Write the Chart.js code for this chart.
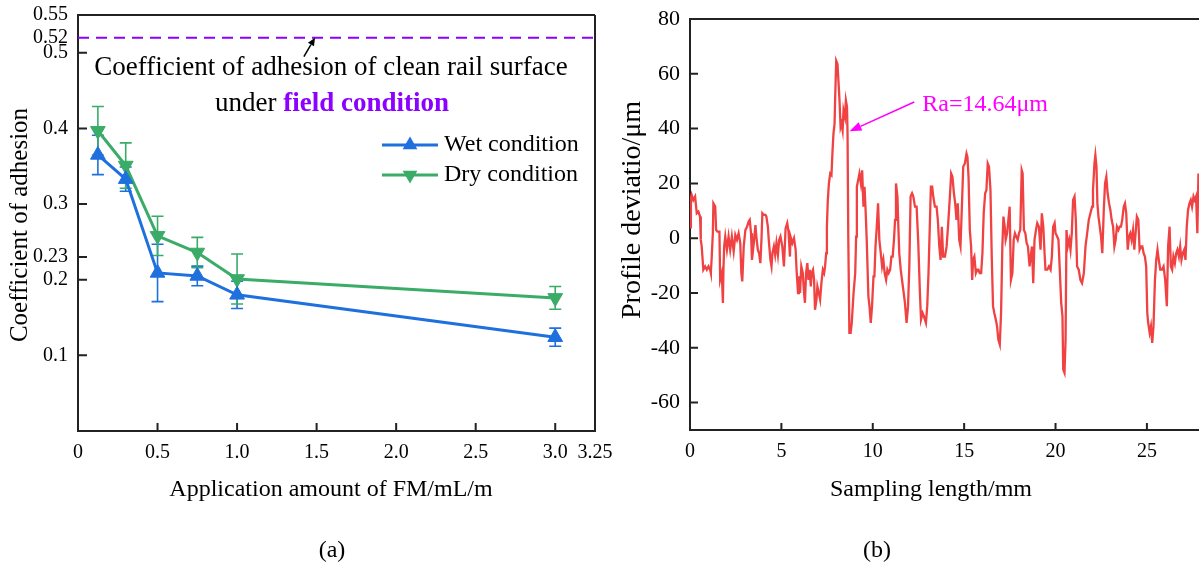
<!DOCTYPE html>
<html lang="en">
<head>
<meta charset="UTF-8">
<title>Adhesion coefficient and rail surface profile</title>
<script src="https://cdn.jsdelivr.net/npm/chart.js"></script>
<style>
  body { margin: 0; background: #fff; }
  #wrap { position: relative; width: 1199px; height: 572px; overflow: hidden; }
  #boxA { position: absolute; left: 0; top: 0; width: 640px; height: 572px; }
  #boxB { position: absolute; left: 600px; top: 0; width: 599px; height: 572px; }
</style>
</head>
<body>
<div id="wrap">
  <div id="boxA"><canvas id="chartA"></canvas></div>
  <div id="boxB"><canvas id="chartB"></canvas></div>
</div>
<script>
// ---- panel (a): adhesion vs FM amount ----
const amounts = [0.125, 0.3, 0.5, 0.75, 1.0, 3.0];
const wetMean = [0.365, 0.333, 0.209, 0.205, 0.180, 0.124];
const wetErr  = [0.026, 0.016, 0.038, 0.013, 0.018, 0.012];
const dryMean = [0.397, 0.351, 0.258, 0.236, 0.201, 0.176];
const dryErr  = [0.032, 0.030, 0.026, 0.020, 0.033, 0.015];
const cleanRail = 0.52;
const xTicksA = [0, 0.5, 1.0, 1.5, 2.0, 2.5, 3.0, 3.25];
const yTicksA = [0.1, 0.2, 0.23, 0.3, 0.4, 0.5, 0.52, 0.55];

// ---- panel (b): surface profile ----
const profileX = [
  0.00, 0.05, 0.09, 0.18, 0.28, 0.37, 0.46, 0.55, 0.59, 0.64, 0.73, 0.83, 0.92, 1.01, 1.10, 1.14, 1.19, 1.25, 1.28, 1.38,
  1.43, 1.50, 1.61, 1.65, 1.74, 1.80, 1.83, 1.87, 1.93, 2.02, 2.11, 2.20, 2.29, 2.39, 2.48, 2.57, 2.66, 2.75, 2.81, 2.86,
  2.94, 3.03, 3.12, 3.21, 3.27, 3.34, 3.39, 3.49, 3.58, 3.63, 3.71, 3.78, 3.85, 3.91, 3.96, 4.04, 4.13, 4.18, 4.26, 4.31,
  4.40, 4.46, 4.51, 4.59, 4.66, 4.73, 4.81, 4.88, 4.95, 5.05, 5.14, 5.23, 5.32, 5.39, 5.47, 5.50, 5.60, 5.69, 5.78, 5.83,
  5.91, 5.96, 6.02, 6.09, 6.17, 6.24, 6.29, 6.35, 6.42, 6.48, 6.55, 6.61, 6.66, 6.73, 6.79, 6.84, 6.92, 6.97, 7.05, 7.12,
  7.19, 7.27, 7.34, 7.39, 7.45, 7.49, 7.54, 7.60, 7.67, 7.74, 7.80, 7.85, 7.91, 7.94, 8.00, 8.07, 8.13, 8.18, 8.24, 8.29,
  8.35, 8.40, 8.48, 8.53, 8.59, 8.62, 8.66, 8.72, 8.79, 8.85, 8.95, 9.04, 9.09, 9.13, 9.20, 9.27, 9.35, 9.42, 9.49, 9.55,
  9.60, 9.67, 9.76, 9.82, 9.89, 9.96, 10.04, 10.09, 10.15, 10.22, 10.29, 10.36, 10.44, 10.51, 10.58, 10.65, 10.73, 10.80, 10.87, 10.95,
  11.02, 11.09, 11.16, 11.22, 11.27, 11.35, 11.40, 11.45, 11.53, 11.60, 11.67, 11.76, 11.85, 11.93, 12.00, 12.07, 12.15, 12.22, 12.31, 12.40,
  12.49, 12.58, 12.64, 12.73, 12.80, 12.91, 12.98, 13.05, 13.13, 13.18, 13.25, 13.31, 13.40, 13.49, 13.56, 13.64, 13.71, 13.78, 13.85, 13.95,
  14.04, 14.13, 14.22, 14.29, 14.36, 14.44, 14.51, 14.58, 14.65, 14.73, 14.80, 14.87, 14.95, 15.04, 15.13, 15.18, 15.24, 15.31, 15.38, 15.44,
  15.49, 15.56, 15.64, 15.71, 15.78, 15.85, 15.93, 16.00, 16.07, 16.15, 16.22, 16.29, 16.36, 16.44, 16.51, 16.58, 16.65, 16.73, 16.80, 16.87,
  16.95, 17.02, 17.09, 17.15, 17.22, 17.27, 17.35, 17.42, 17.49, 17.56, 17.64, 17.71, 17.78, 17.85, 17.93, 18.00, 18.07, 18.15, 18.20, 18.27,
  18.35, 18.42, 18.49, 18.58, 18.71, 18.78, 18.85, 18.93, 19.00, 19.09, 19.18, 19.25, 19.33, 19.40, 19.45, 19.55, 19.64, 19.73, 19.80, 19.87,
  19.95, 20.00, 20.09, 20.16, 20.24, 20.31, 20.38, 20.42, 20.49, 20.55, 20.60, 20.67, 20.75, 20.82, 20.89, 20.96, 21.04, 21.11, 21.18, 21.27,
  21.36, 21.45, 21.55, 21.64, 21.73, 21.82, 21.91, 22.00, 22.05, 22.13, 22.18, 22.24, 22.29, 22.35, 22.42, 22.49, 22.56, 22.64, 22.71, 22.78,
  22.85, 22.93, 23.00, 23.07, 23.15, 23.22, 23.29, 23.36, 23.44, 23.51, 23.58, 23.65, 23.73, 23.80, 23.87, 23.95, 24.02, 24.09, 24.16, 24.24,
  24.31, 24.38, 24.45, 24.53, 24.60, 24.67, 24.75, 24.82, 24.89, 24.96, 25.02, 25.07, 25.15, 25.22, 25.29, 25.36, 25.44, 25.51, 25.58, 25.65,
  25.73, 25.82, 25.91, 26.00, 26.09, 26.16, 26.24, 26.31, 26.38, 26.45, 26.53, 26.60, 26.67, 26.75, 26.82, 26.89, 26.96, 27.04, 27.11, 27.18,
  27.25, 27.33, 27.40, 27.47, 27.55, 27.62, 27.69, 27.76, 27.82
];
const profileY = [
  4.0, 14.5, 15.8, 13.9, 15.2, 9.1, 9.7, 7.9, -0.6, -3.0, -11.5, -10.3, -11.5, -10.3, -11.5, -12.7, -6.7, 1.8, 12.7, 11.5,
  3.0, 2.4, 2.4, -15.2, -12.7, -23.6, -11.5, -3.0, 0.6, -4.2, 0.6, -4.2, 0.6, -4.8, 1.2, -0.6, 1.8, -1.8, -12.7, -15.8,
  -3.0, 3.0, 4.2, 6.1, 6.7, 1.8, -7.9, -1.8, 4.8, 0.6, -4.2, -5.5, -9.1, -0.6, 9.1, 8.5, 8.5, 7.9, 4.2, -0.6,
  -7.9, -10.3, -5.5, -3.0, -6.1, -1.8, -6.1, -0.6, 0.6, -3.0, -10.3, 3.6, 5.5, 2.4, -6.7, 0.6, -1.8, 0.0, -4.2, -11.5,
  -20.0, -13.9, -20.0, -10.3, -12.7, -20.0, -23.6, -12.7, -9.1, -15.2, -11.5, -17.6, -12.7, -11.5, -15.2, -26.1, -22.4, -17.6, -20.0, -22.4,
  -16.4, -11.5, -12.7, -10.3, -5.5, 4.2, 13.9, 20.0, 23.6, 23.0, 32.1, 38.2, 41.8, 50.3, 64.8, 63.6, 56.4, 50.3, 40.6, 41.8,
  39.4, 46.7, 44.2, 50.3, 47.9, 38.2, 0.6, -34.5, -34.5, -30.9, -20.0, -12.7, 0.6, 18.8, 21.2, 23.6, 20.0, 24.8, 11.5, 18.8,
  11.5, -0.6, -21.2, -24.8, -30.9, -24.8, -13.9, -13.9, -3.0, 4.2, 12.7, -0.6, -5.5, -10.3, -7.9, -12.7, -15.2, -11.5, -12.7, -11.5,
  -6.7, -6.7, -0.6, 6.7, 20.0, 15.2, 4.2, -5.5, -11.5, -15.2, -18.8, -23.6, -30.9, -24.8, -10.3, 15.2, 16.4, 15.2, 11.5, 11.5,
  -1.8, -20.0, -29.7, -27.3, -28.5, -30.9, -24.8, -12.7, 6.7, 18.8, 18.8, 15.2, 11.5, 11.5, 6.7, -3.0, -7.9, 4.2, -6.7, -6.7,
  -3.0, 5.5, 15.2, 23.6, 22.4, 16.4, 12.7, 6.7, 12.7, -0.6, -3.0, 10.3, 26.1, 27.3, 30.9, 29.7, 22.4, 3.0, -3.0, -15.2,
  -7.9, -6.7, -12.7, -11.5, -11.5, -12.7, -12.7, -5.5, 9.1, 16.4, 17.6, 27.3, 26.1, 17.6, -6.7, -24.8, -27.3, -29.7, -32.1, -37.0,
  -38.8, -27.3, -3.0, 7.9, 4.2, -0.6, 1.8, 6.7, 11.5, -15.2, -12.7, -0.6, 1.8, 0.6, -0.6, 1.8, 3.0, 24.8, 23.6, 3.0,
  1.8, -1.8, -3.0, -10.3, -3.0, -16.4, -0.6, 3.0, 5.5, 4.2, -4.2, 9.1, 4.2, -5.5, -11.5, -11.5, -10.3, -11.5, -6.7, 4.2,
  5.5, 1.8, 0.6, -0.6, -12.7, -23.6, -28.5, -47.9, -49.1, -37.0, 3.0, -3.0, -0.6, -4.2, 1.8, 13.9, 15.2, 6.7, -10.3, -11.5,
  -15.2, -16.4, -12.7, -3.0, 1.8, 6.7, 9.1, 11.5, 17.6, 27.3, 30.3, 26.1, 12.7, 7.9, 4.2, 0.6, -5.5, 10.3, 20.0, 22.4,
  16.4, 12.7, 10.3, 6.7, 4.2, -3.0, -0.6, 4.2, 3.0, 4.2, 4.2, 6.7, 11.5, 12.7, 9.1, -4.2, 0.6, 1.8, -0.6, 3.0,
  -4.2, 1.8, 7.9, 6.7, -4.2, -3.0, -3.0, -5.5, -6.7, -10.3, -27.3, -30.9, -34.5, -32.1, -38.2, -32.1, -15.2, -7.9, -4.2, -7.9,
  -11.5, -11.5, -10.3, -15.2, -24.8, -3.0, 4.2, -10.3, -11.5, -6.7, -9.1, -5.5, -4.2, -6.7, -3.0, -7.9, -5.5, -4.2, -7.9, 4.2,
  10.3, 12.7, 13.9, 11.5, 15.2, 13.9, 15.2, 1.8, 23.6
];
const xTicksB = [0, 5, 10, 15, 20, 25];
const yTicksB = [-60, -40, -20, 0, 20, 40, 60, 80];

const serif = '"Liberation Serif", "Times New Roman", serif';
const blue = 'rgb(30,112,222)';
const green = 'rgb(58,172,104)';
const violet = '#8b00ff';
const red = 'rgb(240,66,66)';
const axisCol = '#222';

function arrow(ctx, x1, y1, x2, y2, color, width, headLen, headHalf) {
  const a = Math.atan2(y2 - y1, x2 - x1);
  const bx = x2 - headLen * Math.cos(a), by = y2 - headLen * Math.sin(a);
  ctx.save();
  ctx.strokeStyle = color; ctx.fillStyle = color; ctx.lineWidth = width;
  ctx.beginPath(); ctx.moveTo(x1, y1); ctx.lineTo(bx, by); ctx.stroke();
  ctx.beginPath();
  ctx.moveTo(x2, y2);
  ctx.lineTo(bx + headHalf * Math.sin(a), by - headHalf * Math.cos(a));
  ctx.lineTo(bx - headHalf * Math.sin(a), by + headHalf * Math.cos(a));
  ctx.closePath(); ctx.fill();
  ctx.restore();
}

function triangle(ctx, x, y, r, down) {
  let rad = down ? Math.PI : 0;
  ctx.beginPath();
  for (let k = 0; k < 3; k++) {
    const px = x + Math.sin(rad) * r, py = y - Math.cos(rad) * r;
    if (k) ctx.lineTo(px, py); else ctx.moveTo(px, py);
    rad += 2 * Math.PI / 3;
  }
  ctx.closePath();
  ctx.fill();
}

// inward tick marks + the remaining frame lines
function drawFrame(chart, xVals, yVals, xLen, yLen, sides) {
  const {ctx, chartArea: ca, scales} = chart;
  ctx.save();
  ctx.strokeStyle = axisCol;
  ctx.lineWidth = 2;
  ctx.beginPath();
  xVals.forEach(v => {
    const px = scales.x.getPixelForValue(v);
    ctx.moveTo(px, ca.bottom); ctx.lineTo(px, ca.bottom - xLen);
  });
  yVals.forEach(v => {
    const py = scales.y.getPixelForValue(v);
    ctx.moveTo(ca.left, py); ctx.lineTo(ca.left + yLen, py);
  });
  ctx.stroke();
  ctx.beginPath();
  if (sides.top) { ctx.moveTo(ca.left, ca.top); ctx.lineTo(ca.right, ca.top); }
  if (sides.right) { ctx.moveTo(ca.right, ca.top); ctx.lineTo(ca.right, ca.bottom + 1); }
  ctx.stroke();
  ctx.restore();
}

function text(ctx, str, x, y, font, color, align) {
  ctx.font = font;
  ctx.fillStyle = color || '#000';
  ctx.textAlign = align || 'center';
  ctx.textBaseline = 'middle';
  ctx.fillText(str, x, y);
}

function vText(ctx, str, x, y, font) {
  ctx.save();
  ctx.translate(x, y);
  ctx.rotate(-Math.PI / 2);
  text(ctx, str, 0, 0, font);
  ctx.restore();
}

// keep the plot area exactly where the padding puts it
function noOverhang(s) {
  s.paddingTop = 0; s.paddingBottom = 0; s.paddingLeft = 0; s.paddingRight = 0;
}

const panelA = {
  id: 'panelA',
  beforeDatasetsDraw(chart) {
    const {ctx, chartArea: ca, scales} = chart;
    const y = scales.y.getPixelForValue(cleanRail);
    ctx.save();
    ctx.strokeStyle = violet;
    ctx.lineWidth = 2;
    ctx.setLineDash([11, 7]);
    ctx.beginPath(); ctx.moveTo(ca.left, y); ctx.lineTo(ca.right, y); ctx.stroke();
    ctx.restore();

    // error bars
    [[wetMean, wetErr, blue], [dryMean, dryErr, green]].forEach(([m, e, c]) => {
      ctx.save();
      ctx.strokeStyle = c;
      ctx.lineWidth = 1.6;
      ctx.beginPath();
      amounts.forEach((a, i) => {
        const px = scales.x.getPixelForValue(a);
        const top = scales.y.getPixelForValue(m[i] + e[i]);
        const bot = scales.y.getPixelForValue(m[i] - e[i]);
        ctx.moveTo(px, top); ctx.lineTo(px, bot);
        ctx.moveTo(px - 6, top); ctx.lineTo(px + 6, top);
        ctx.moveTo(px - 6, bot); ctx.lineTo(px + 6, bot);
      });
      ctx.stroke();
      ctx.restore();
    });
  },
  afterDraw(chart) {
    const {ctx, scales} = chart;
    drawFrame(chart, [0.5, 1.0, 1.5, 2.0, 2.5, 3.0], [0.1, 0.2, 0.23, 0.3, 0.4, 0.5], 8, 9, {top: true, right: true});

    const f24 = '24px ' + serif;
    const f27 = '27px ' + serif;
    text(ctx, 'Coefficient of adhesion of clean rail surface', 331, 68, f27);
    // second line with bold coloured part
    ctx.font = f27;
    const w1 = ctx.measureText('under ').width;
    ctx.font = 'bold 27px ' + serif;
    const w2 = ctx.measureText('field condition').width;
    const x0 = 332 - (w1 + w2) / 2;
    text(ctx, 'under ', x0, 104, f27, '#000', 'left');
    text(ctx, 'field condition', x0 + w1, 104, 'bold 27px ' + serif, violet, 'left');

    arrow(ctx, scales.x.getPixelForValue(1.42), scales.y.getPixelForValue(0.495),
      scales.x.getPixelForValue(1.49), scales.y.getPixelForValue(0.52), '#000', 1.5, 8, 3.5);

    // legend
    [['Wet condition', blue, false, 145], ['Dry condition', green, true, 175]].forEach(([lab, c, down, y]) => {
      ctx.save();
      ctx.strokeStyle = c; ctx.fillStyle = c; ctx.lineWidth = 3;
      ctx.beginPath(); ctx.moveTo(382, y); ctx.lineTo(438, y); ctx.stroke();
      triangle(ctx, 410, y, 8.5, down);
      ctx.restore();
      text(ctx, lab, 444, y, f24, '#000', 'left');
    });

    vText(ctx, 'Coefficient of adhesion', 20, 225, '25px ' + serif);
    text(ctx, 'Application amount of FM/mL/m', 331, 490, f24);
    text(ctx, '(a)', 332, 551, f24);
  }
};

const panelB = {
  id: 'panelB',
  afterDraw(chart) {
    const {ctx, scales} = chart;
    drawFrame(chart, [5, 10, 15, 20, 25], [-60, -40, -20, 0, 20, 40, 60], 7, 8, {top: true, right: false});
    const f24 = '24px ' + serif;
    arrow(ctx, scales.x.getPixelForValue(12.27), scales.y.getPixelForValue(49.7),
      scales.x.getPixelForValue(8.73), scales.y.getPixelForValue(39.0), '#ff00ff', 1.6, 12, 4.5);
    ctx.font = f24;
    ctx.fillStyle = '#ff00ff';
    ctx.textAlign = 'left';
    ctx.textBaseline = 'alphabetic';
    ctx.fillText('Ra=14.64\u03bcm', scales.x.getPixelForValue(12.71), scales.y.getPixelForValue(46.6));

    vText(ctx, 'Profile deviatio/\u03bcm', 33, 210, '28px ' + serif);
    text(ctx, 'Sampling length/mm', 331, 490, f24);
    text(ctx, '(b)', 277, 551, f24);
  }
};

const tickFont = {family: serif, size: 20};

new Chart(document.getElementById('chartA'), {
  type: 'line',
  data: {
    datasets: [
      {
        label: 'Wet condition',
        data: amounts.map((a, i) => ({x: a, y: wetMean[i]})),
        borderColor: blue, backgroundColor: blue,
        borderWidth: 3, pointStyle: 'triangle', pointRadius: 8.5,
        pointBorderWidth: 1, tension: 0
      },
      {
        label: 'Dry condition',
        data: amounts.map((a, i) => ({x: a, y: dryMean[i]})),
        borderColor: green, backgroundColor: green,
        borderWidth: 3, pointStyle: 'triangle', pointRotation: 180, pointRadius: 8.5,
        pointBorderWidth: 1, tension: 0
      }
    ]
  },
  options: {
    responsive: true,
    maintainAspectRatio: false,
    animation: false,
    layout: {padding: {top: 15, right: 45, left: 0, bottom: 0}},
    plugins: {legend: {display: false}, tooltip: {enabled: false}},
    scales: {
      x: {
        type: 'linear', min: 0, max: 3.25,
        afterBuildTicks: s => { s.ticks = xTicksA.map(v => ({value: v})); },
        afterFit: s => { s.height = 141; noOverhang(s); },
        grid: {display: false, drawTicks: false},
        border: {display: true, color: axisCol, width: 2},
        ticks: {
          autoSkip: false, maxRotation: 0, padding: 10, color: '#000', font: tickFont,
          callback: v => v === 0 ? '0' : (v === 3.25 ? '3.25' : v.toFixed(1))
        }
      },
      y: {
        min: 0, max: 0.55,
        afterBuildTicks: s => { s.ticks = yTicksA.map(v => ({value: v})); },
        afterFit: s => { s.width = 78; noOverhang(s); },
        grid: {display: false, drawTicks: false},
        border: {display: true, color: axisCol, width: 2},
        ticks: {autoSkip: false, padding: 10, color: '#000', font: tickFont, callback: v => String(v)}
      }
    }
  },
  plugins: [panelA]
});

new Chart(document.getElementById('chartB'), {
  type: 'line',
  data: {
    datasets: [{
      label: 'Profile',
      data: profileX.map((x, i) => ({x: x, y: profileY[i]})),
      borderColor: red,
      borderWidth: 2.3,
      pointRadius: 0,
      tension: 0
    }]
  },
  options: {
    responsive: true,
    maintainAspectRatio: false,
    animation: false,
    layout: {padding: {top: 19, right: 0, left: 0, bottom: 0}},
    plugins: {legend: {display: false}, tooltip: {enabled: false}},
    scales: {
      x: {
        type: 'linear', min: 0, max: 27.85,
        afterBuildTicks: s => { s.ticks = xTicksB.map(v => ({value: v})); },
        afterFit: s => { s.height = 142; noOverhang(s); },
        grid: {display: false, drawTicks: false},
        border: {display: true, color: axisCol, width: 2},
        ticks: {autoSkip: false, maxRotation: 0, padding: 10, color: '#000', font: tickFont}
      },
      y: {
        min: -70, max: 80,
        afterBuildTicks: s => { s.ticks = yTicksB.map(v => ({value: v})); },
        afterFit: s => { s.width = 90; noOverhang(s); },
        grid: {display: false, drawTicks: false},
        border: {display: true, color: axisCol, width: 2},
        ticks: {autoSkip: false, padding: 10, color: '#000', font: {family: serif, size: 22}}
      }
    }
  },
  plugins: [panelB]
});
</script>
</body>
</html>
